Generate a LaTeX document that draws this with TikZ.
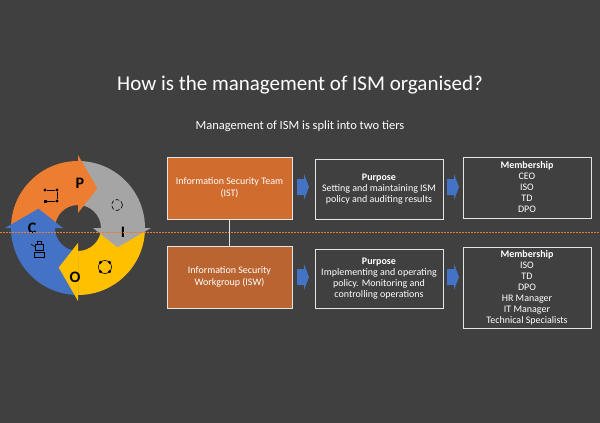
\documentclass[tikz,border=0pt]{standalone}
\usepackage{fontspec}
\setmainfont{Carlito}
\usetikzlibrary{positioning}
\definecolor{bgdark}{HTML}{404040}
\definecolor{teamorange}{HTML}{CF6C2E}
\definecolor{grouporange}{HTML}{BA6531}
\definecolor{cycorange}{HTML}{ED7D31}
\definecolor{cycgray}{HTML}{A5A5A5}
\definecolor{cycyellow}{HTML}{FFC000}
\definecolor{cycblue}{HTML}{4472C4}
\definecolor{arrowblue}{HTML}{4472C4}
\tikzset{
  tierbox/.style={draw=white!80!gray, line width=1pt, minimum width=125pt, minimum height=62pt, align=center, text=white, font=\fontsize{10}{12}\selectfont, inner sep=2pt},
  infobox/.style={draw=white!80!gray, line width=1pt, fill=bgdark, minimum width=128pt, align=center, text=white, font=\fontsize{10}{11}\selectfont, inner sep=2pt},
  steparrow/.style={fill=arrowblue},
  cycletext/.style={font=\bfseries\fontsize{16}{16}\selectfont, text=black}
}
% ring sector body and head
\newcommand{\ringbody}[3]{\fill[#1] (#2:67) arc (#2:#3:67) -- (#3:23) arc (#3:#2:23) -- cycle;}
\newcommand{\ringhead}[2]{\fill[#1] (#2:73) -- (#2-26:44) -- (#2:15) -- cycle;}
\newcommand{\bluearrow}[2]{\fill[steparrow] (#1,#2-8) -- (#1+7,#2-8) -- (#1+7,#2-13) -- (#1+12,#2) -- (#1+7,#2+13) -- (#1+7,#2+8) -- (#1,#2+8) -- cycle;}
\begin{document}
\begin{tikzpicture}[x=1pt,y=-1pt]
    \fill[bgdark] (0,0) rectangle (600,423);
    \useasboundingbox (0,0) rectangle (600,423);

    % Titles
    \node[text=white, font=\fontsize{21}{25}\selectfont] (title) at (300,85) {How is the management of ISM organised?};
    \node[text=white, font=\fontsize{12.5}{15}\selectfont] (subtitle) at (300,126) {Management of ISM is split into two tiers};

    % Cycle
    \begin{scope}[shift={(78,228)}, x=1pt, y=1pt]
      \ringbody{cycorange}{180}{90}
      \ringbody{cycgray}{90}{0}
      \ringbody{cycyellow}{0}{-90}
      \ringbody{cycblue}{-90}{-180}
      \ringhead{cycorange}{90}
      \ringhead{cycgray}{0}
      \ringhead{cycyellow}{-90}
      \ringhead{cycblue}{180}
      \node[cycletext] (pletter) at (2,45) {P};
      \node[cycletext] (iletter) at (45,-4) {I};
      \node[cycletext] (oletter) at (-3,-49) {O};
      \node[cycletext] (cletter) at (-46,0) {C};
      % icons
      \foreach \px/\py in {-33/38,-21/38,-21/27}
        \fill[black] (\px,\py) circle (1.6);
      \fill[black] (-34.5,25.5) rectangle (-31.5,28.5);
      \draw[black, line width=0.5pt] (-31,38) -- (-23,38) (-21,36) -- (-21,29) (-23,27) -- (-31,27);
      \draw[black, line width=0.6pt, dash pattern=on 4pt off 2pt] (39,23) circle (5.5);
      \draw[black, line width=0.6pt] (27,-39) circle (6.5);
      \foreach \a in {0,90,180,270}
        \fill[black] ([shift={(27,-39)}]\a+45:6.5) circle (1.6);
      \draw[black, line width=0.6pt] (-43,-16) rectangle (-35,-22);
      \draw[black, line width=0.6pt] (-44,-24) rectangle (-34,-29);
      \draw[black, line width=0.6pt] (-41,-13) rectangle (-37,-16);
      \draw[black, line width=0.5pt] (-43,-19) -- (-47,-16);
    \end{scope}

    % Tier separator
    \draw[cycorange, line width=1pt, dash pattern=on 1.5pt off 1.5pt] (0,232) -- (600,232);

    % Tier boxes
    \node[tierbox, fill=teamorange] (ist) at (229.5,188) {Information Security Team\\(IST)};
    \node[tierbox, fill=grouporange] (isw) at (229.5,277) {Information Security\\Workgroup (ISW)};
    \draw[white!80!gray, line width=0.8pt] (ist) -- (isw);

    % Purpose boxes
    \node[infobox, minimum height=60pt] (purposeist) at (379,189) {\textbf{Purpose}\\Setting and maintaining ISM\\policy and auditing results};
    \node[infobox, minimum height=59pt] (purposeisw) at (379,278.5) {\textbf{Purpose}\\Implementing and operating\\policy. Monitoring and\\controlling operations};

    % Membership boxes
    \node[infobox, minimum height=61pt] (memberist) at (527,187.5) {\textbf{Membership}\\CEO\\ISO\\TD\\DPO};
    \node[infobox, minimum height=81pt] (memberisw) at (527,287.5) {\textbf{Membership}\\ISO\\TD\\DPO\\HR Manager\\IT Manager\\Technical Specialists};

    % Step arrows
    \bluearrow{297}{187}
    \bluearrow{297}{277}
    \bluearrow{447}{187}
    \bluearrow{447}{277}
\end{tikzpicture}
\end{document}
